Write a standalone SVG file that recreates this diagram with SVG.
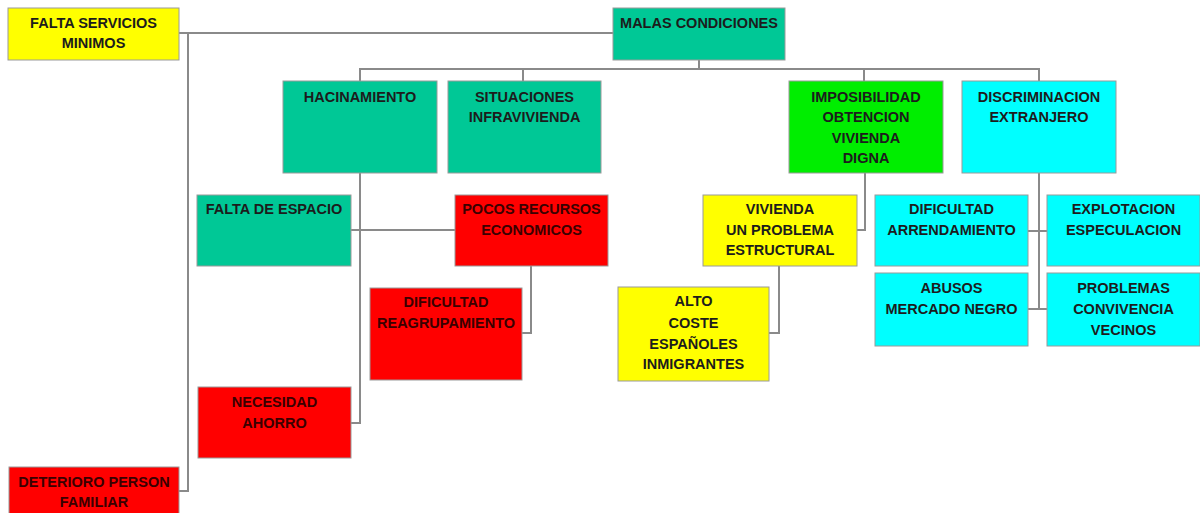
<svg xmlns="http://www.w3.org/2000/svg" width="1200" height="513" viewBox="0 0 1200 513">
<style>
.n rect{stroke:#9a9a9a;stroke-width:1}
.y{fill:#ffff00}.t{fill:#00c896}.g{fill:#00ee00}.c{fill:#00ffff}.r{fill:#ff0000}
text{font-family:"Liberation Sans",Arial,sans-serif;font-weight:bold;font-size:14.5px;text-anchor:middle;fill:#1c1c1c}
.rt{fill:#3a0000}
#connectors path{fill:none;stroke:#8a8a8a;stroke-width:2}
</style>
<rect width="1200" height="513" fill="#ffffff"/>
<g id="connectors">
<path d="M179,33H613"/>
<path d="M188,33V491H179"/>
<path d="M699,60V69"/>
<path d="M360,81V69H1039V81"/>
<path d="M523,69V81"/>
<path d="M864,69V81"/>
<path d="M360,173V423H351"/>
<path d="M351,230H455"/>
<path d="M531,266V333H522"/>
<path d="M865,173V230H857"/>
<path d="M779,266V333H769"/>
<path d="M1039,173V309"/>
<path d="M1028,231H1047"/>
<path d="M1028,309H1047"/>
</g>
<g id="falta-servicios" class="n"><rect class="y" x="8" y="8" width="171" height="52"/><text x="93.5" y="28">FALTA SERVICIOS</text><text x="93.5" y="48">MINIMOS</text></g>
<g id="malas-condiciones" class="n"><rect class="t" x="613" y="8" width="172" height="52"/><text x="699" y="28">MALAS CONDICIONES</text></g>
<g id="hacinamiento" class="n"><rect class="t" x="283" y="81" width="154" height="92"/><text x="360" y="102">HACINAMIENTO</text></g>
<g id="situaciones" class="n"><rect class="t" x="448" y="81" width="153" height="92"/><text x="524.5" y="102">SITUACIONES</text><text x="524.5" y="122">INFRAVIVIENDA</text></g>
<g id="imposibilidad" class="n"><rect class="g" x="789" y="81" width="154" height="92"/><text x="866" y="102">IMPOSIBILIDAD</text><text x="866" y="122">OBTENCION</text><text x="866" y="143">VIVIENDA</text><text x="866" y="163">DIGNA</text></g>
<g id="discriminacion" class="n"><rect class="c" x="962" y="81" width="154" height="92"/><text x="1039" y="102">DISCRIMINACION</text><text x="1039" y="122">EXTRANJERO</text></g>
<g id="falta-espacio" class="n"><rect class="t" x="197" y="195" width="154" height="71"/><text x="274" y="214">FALTA DE ESPACIO</text></g>
<g id="pocos-recursos" class="n"><rect class="r" x="455" y="195" width="153" height="71"/><text class="rt" x="531.5" y="214">POCOS RECURSOS</text><text class="rt" x="531.5" y="235">ECONOMICOS</text></g>
<g id="dificultad-reagrupamiento" class="n"><rect class="r" x="370" y="288" width="152" height="92"/><text class="rt" x="446" y="307">DIFICULTAD</text><text class="rt" x="446" y="328">REAGRUPAMIENTO</text></g>
<g id="necesidad-ahorro" class="n"><rect class="r" x="198" y="387" width="153" height="71"/><text class="rt" x="274.5" y="407">NECESIDAD</text><text class="rt" x="274.5" y="428">AHORRO</text></g>
<g id="deterioro" class="n"><rect class="r" x="9" y="467" width="170" height="50"/><text class="rt" x="94" y="487">DETERIORO PERSON</text><text class="rt" x="94" y="507">FAMILIAR</text></g>
<g id="vivienda-problema" class="n"><rect class="y" x="703" y="195" width="154" height="71"/><text x="780" y="214">VIVIENDA</text><text x="780" y="235">UN PROBLEMA</text><text x="780" y="255">ESTRUCTURAL</text></g>
<g id="alto-coste" class="n"><rect class="y" x="618" y="287" width="151" height="94"/><text x="693.5" y="306">ALTO</text><text x="693.5" y="328">COSTE</text><text x="693.5" y="349">ESPAÑOLES</text><text x="693.5" y="369">INMIGRANTES</text></g>
<g id="dificultad-arrendamiento" class="n"><rect class="c" x="875" y="195" width="153" height="71"/><text x="951.5" y="214">DIFICULTAD</text><text x="951.5" y="235">ARRENDAMIENTO</text></g>
<g id="explotacion" class="n"><rect class="c" x="1047" y="195" width="153" height="71"/><text x="1123.5" y="214">EXPLOTACION</text><text x="1123.5" y="235">ESPECULACION</text></g>
<g id="abusos" class="n"><rect class="c" x="875" y="273" width="153" height="73"/><text x="951.5" y="293">ABUSOS</text><text x="951.5" y="314">MERCADO NEGRO</text></g>
<g id="problemas-convivencia" class="n"><rect class="c" x="1047" y="273" width="153" height="73"/><text x="1123.5" y="293">PROBLEMAS</text><text x="1123.5" y="314">CONVIVENCIA</text><text x="1123.5" y="335">VECINOS</text></g>
</svg>
